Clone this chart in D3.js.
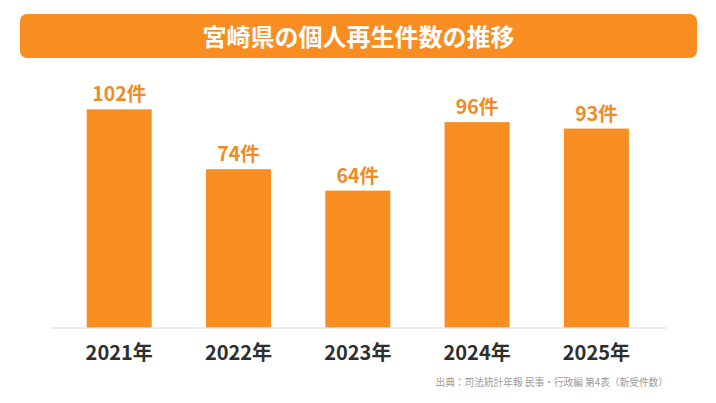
<!DOCTYPE html>
<html>
<head>
<meta charset="utf-8">
<script src="https://cdn.jsdelivr.net/npm/d3@7"></script>
<style>
    body {
        margin: 0;
        background: #ffffff;
        font-family: "Noto Sans CJK JP", "Noto Sans", sans-serif;
    }
    svg {
        display: block;
    }
</style>
</head>
<body>
<svg id="chart" width="716" height="403"></svg>
<script>
    const years = ["2021年", "2022年", "2023年", "2024年", "2025年"];
    const counts = [102, 74, 64, 96, 93];
    const valueUnit = "件";
    const titleText = "宮崎県の個人再生件数の推移";
    const sourceText = "出典：司法統計年報 民事・行政編 第4表（新受件数）";

    const orange = "#f88d22";
    const svg = d3.select("#chart");

    // title banner
    svg.append("rect")
        .attr("x", 20)
        .attr("y", 14)
        .attr("width", 677)
        .attr("height", 44)
        .attr("rx", 7)
        .attr("fill", orange);

    svg.append("text")
        .attr("x", 358.5)
        .attr("y", 35.5)
        .attr("text-anchor", "middle")
        .attr("dominant-baseline", "central")
        .attr("fill", "#ffffff")
        .attr("font-size", 24)
        .attr("font-weight", 700)
        .text(titleText);

    const x = d3.scaleBand()
        .domain(years)
        .range([32.4, 683.2])
        .paddingInner(0.455)
        .paddingOuter(0.455);

    const y = d3.scaleLinear()
        .domain([0, 100])
        .range([327.5, 113.6]);

    // bars
    svg.append("g")
        .selectAll("rect")
        .data(counts)
        .join("rect")
        .attr("x", (d, i) => x(years[i]))
        .attr("y", d => y(d))
        .attr("width", x.bandwidth())
        .attr("height", d => y(0) - y(d))
        .attr("fill", orange);

    // value labels
    svg.append("g")
        .selectAll("text")
        .data(counts)
        .join("text")
        .attr("x", (d, i) => x(years[i]) + x.bandwidth() / 2)
        .attr("y", d => y(d) - 8)
        .attr("text-anchor", "middle")
        .attr("fill", "#f08a24")
        .attr("font-size", 19.5)
        .attr("font-weight", 700)
        .text(d => d + valueUnit);

    // baseline
    svg.append("line")
        .attr("x1", 50)
        .attr("x2", 666)
        .attr("y1", y(0) + 0.5)
        .attr("y2", y(0) + 0.5)
        .attr("stroke", "#d9d9d9")
        .attr("stroke-width", 1);

    // x axis, labels only
    const xAxis = svg.append("g")
        .attr("transform", `translate(0,${y(0)})`)
        .call(d3.axisBottom(x).tickSize(0).tickPadding(0));
    xAxis.select(".domain").remove();
    xAxis.selectAll("text")
        .attr("dy", null)
        .attr("y", 32.5)
        .attr("fill", "#2e2e2e")
        .attr("font-size", 20)
        .attr("font-weight", 700)
        .attr("font-family", "\"Noto Sans CJK JP\", sans-serif");

    // source note
    svg.append("text")
        .attr("x", 668)
        .attr("y", 386)
        .attr("text-anchor", "end")
        .attr("fill", "#9a9a9a")
        .attr("font-size", 9.7)
        .text(sourceText);
</script>
</body>
</html>
